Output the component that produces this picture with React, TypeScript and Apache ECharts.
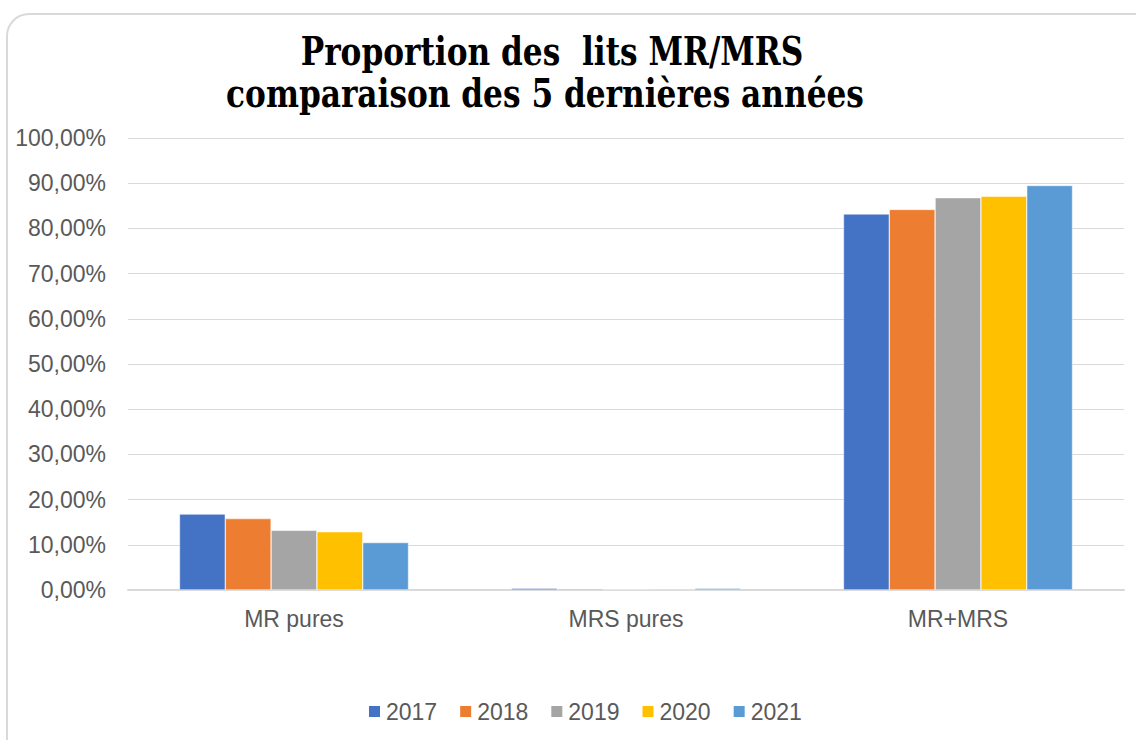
import React, { useEffect, useRef } from "react";
import * as echarts from "echarts";

const categories = ["MR pures", "MRS pures", "MR+MRS"];
const years = ["2017", "2018", "2019", "2020", "2021"];
const values2017 = [16.8, 0.4, 83.2];
const values2018 = [15.8, 0.3, 84.2];
const values2019 = [13.2, 0.2, 86.8];
const values2020 = [12.9, 0.3, 87.1];
const values2021 = [10.5, 0.4, 89.5];
const seriesValues = [values2017, values2018, values2019, values2020, values2021];
const colors = ["#4472C4", "#ED7D31", "#A5A5A5", "#FFC000", "#5B9BD5"];
const titleLine1 = "Proportion des  lits MR/MRS";
const titleLine2 = "comparaison des 5 dernières années";

export default function App() {
  const ref = useRef<HTMLDivElement>(null);
  useEffect(() => {
    const chart = echarts.init(ref.current!, null, { renderer: "svg" });
    const titleStyle = {
      fill: "#000000",
      fontFamily: "DejaVu Serif",
      fontWeight: "bold",
      fontSize: 40,
      align: "center",
      verticalAlign: "middle",
    };
    chart.setOption({
      animation: false,
      backgroundColor: "#ffffff",
      graphic: [
        {
          type: "rect",
          shape: { x: 7, y: 14, width: 1150, height: 760, r: 22 },
          style: { fill: "none", stroke: "#d9d9d9", lineWidth: 2 },
          silent: true,
        },
        {
          type: "text",
          x: 552,
          y: 51,
          scaleX: 0.78,
          style: { ...titleStyle, text: titleLine1 },
        },
        {
          type: "text",
          x: 545,
          y: 93,
          scaleX: 0.78,
          style: { ...titleStyle, text: titleLine2 },
        },
      ],
      legend: {
        data: years,
        bottom: 12,
        left: 362,
        itemWidth: 13,
        itemHeight: 13,
        itemGap: 21,
        icon: "rect",
        textStyle: { fontFamily: "Liberation Sans", fontSize: 23, color: "#595959" },
      },
      grid: { left: 128, right: 12, top: 138, bottom: 150, containLabel: false },
      xAxis: {
        type: "category",
        data: categories,
        axisTick: { show: false },
        axisLine: { lineStyle: { color: "#d9d9d9", width: 2 } },
        axisLabel: { fontFamily: "Liberation Sans", fontSize: 23, color: "#595959", margin: 17 },
      },
      yAxis: {
        type: "value",
        min: 0,
        max: 100,
        interval: 10,
        axisLine: { show: false },
        axisTick: { show: false },
        splitLine: { lineStyle: { color: "#d9d9d9", width: 1 } },
        axisLabel: {
          fontFamily: "Liberation Sans",
          fontSize: 23,
          color: "#595959",
          margin: 22,
          formatter: (v: number) => v.toFixed(2).replace(".", ",") + "%",
        },
      },
      series: years.map((y, i) => ({
        name: y,
        type: "bar",
        data: seriesValues[i],
        barGap: "0%",
        barCategoryGap: "31%",
        itemStyle: { color: colors[i], borderColor: "#ffffff", borderWidth: 0.5 },
      })),
    });
    return () => chart.dispose();
  }, []);
  return <div ref={ref} style={{ position: "fixed", left: 0, top: 0, width: 1136, height: 740 }} />;
}
